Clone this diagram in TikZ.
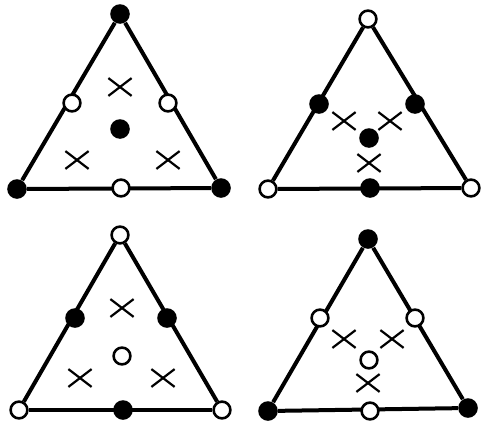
\documentclass[tikz,border=0pt]{standalone}
\usepackage{tikz}
\usetikzlibrary{shapes.misc, backgrounds}

\begin{document}
\begin{tikzpicture}[
    x=0.5pt, y=-0.5pt,
    full/.style={circle, fill=black, inner sep=0pt, minimum size=9.8pt},
    hollow/.style={circle, draw, line width=1.3pt, fill=white, inner sep=0pt, minimum size=8.4pt},
    cross/.style={cross out, draw, line width=1.1pt, inner sep=0pt, minimum width=10.5pt, minimum height=7.8pt},
    edge/.style={draw, line width=2pt}
]
    \useasboundingbox (0,0) rectangle (481,423);

    % Top left
    \node[full] (t1top) at (120,14) {};
    \node[full] (t1left) at (17,189) {};
    \node[full] (t1right) at (221,188) {};
    \node[hollow] (t1ml) at (72,103) {};
    \node[hollow] (t1mr) at (168,103) {};
    \node[hollow] (t1mb) at (121,188) {};
    \node[full] (t1c) at (120,129) {};
    \node[cross] (t1x1) at (120,87) {};
    \node[cross] (t1x2) at (77,160) {};
    \node[cross] (t1x3) at (168,160) {};

    % Top right
    \node[hollow] (t2top) at (368,19) {};
    \node[hollow] (t2left) at (268,189) {};
    \node[hollow] (t2right) at (471,188) {};
    \node[full] (t2ml) at (319,104) {};
    \node[full] (t2mr) at (415,104) {};
    \node[full] (t2mb) at (370,188) {};
    \node[full] (t2c) at (369,138) {};
    \node[cross] (t2x1) at (344,121) {};
    \node[cross] (t2x2) at (390,121) {};
    \node[cross] (t2x3) at (369,163) {};

    % Bottom left
    \node[hollow] (t3top) at (120,235) {};
    \node[hollow] (t3left) at (19,410) {};
    \node[hollow] (t3right) at (222,410) {};
    \node[full] (t3ml) at (75,318) {};
    \node[full] (t3mr) at (167,318) {};
    \node[full] (t3mb) at (123,410) {};
    \node[hollow] (t3c) at (122,356) {};
    \node[cross] (t3x1) at (122,308) {};
    \node[cross] (t3x2) at (80,378) {};
    \node[cross] (t3x3) at (163,378) {};

    % Bottom right
    \node[full] (t4top) at (368,239) {};
    \node[full] (t4left) at (268,411) {};
    \node[full] (t4right) at (468,408) {};
    \node[hollow] (t4ml) at (320,318) {};
    \node[hollow] (t4mr) at (415,318) {};
    \node[hollow] (t4mb) at (370,411) {};
    \node[hollow] (t4c) at (369,360) {};
    \node[cross] (t4x1) at (344,339) {};
    \node[cross] (t4x2) at (392,339) {};
    \node[cross] (t4x3) at (368,383) {};

    % Edges
    \begin{pgfonlayer}{background}
        \draw[edge] (t1top) -- (t1left);
        \draw[edge] (t1top) -- (t1right);
        \draw[edge] (t1left) -- (t1right);
        \draw[edge] (t2top) -- (t2left);
        \draw[edge] (t2top) -- (t2right);
        \draw[edge] (t2left) -- (t2right);
        \draw[edge] (t3top) -- (t3left);
        \draw[edge] (t3top) -- (t3right);
        \draw[edge] (t3left) -- (t3right);
        \draw[edge] (t4top) -- (t4left);
        \draw[edge] (t4top) -- (t4right);
        \draw[edge] (t4left) -- (t4right);
    \end{pgfonlayer}

\end{tikzpicture}
\end{document}
